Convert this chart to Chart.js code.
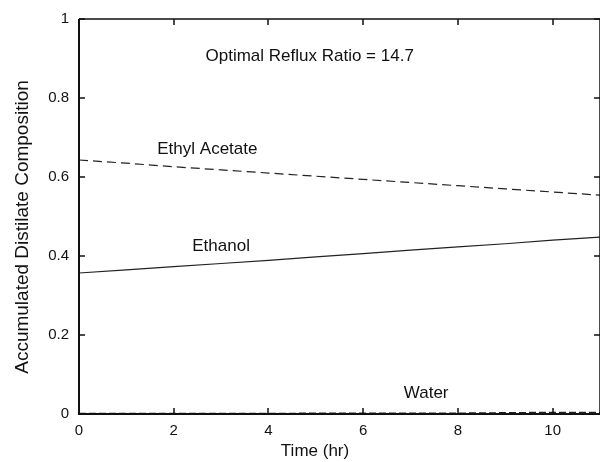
<!DOCTYPE html>
<html>
<head>
<meta charset="utf-8">
<script src="https://cdn.jsdelivr.net/npm/chart.js@4/dist/chart.umd.min.js"></script>
<style>
html,body{margin:0;padding:0;background:#fff;}
#wrap{width:600px;height:462px;}
</style>
</head>
<body>
<div id="wrap"><canvas id="c" width="600" height="462"></canvas></div>
<script>
const timeHr = [0, 1, 2, 3, 4, 5, 6, 7, 8, 9, 10, 11];
const ethylAcetate = [0.643, 0.635, 0.626, 0.618, 0.610, 0.602, 0.594, 0.586, 0.578, 0.570, 0.562, 0.554];
const ethanol = [0.357, 0.365, 0.373, 0.381, 0.389, 0.398, 0.406, 0.415, 0.423, 0.431, 0.440, 0.448];
const water = [0.001, 0.001, 0.001, 0.001, 0.001, 0.002, 0.002, 0.002, 0.002, 0.003, 0.004, 0.004];
const xTicks = [0, 2, 4, 6, 8, 10];
const yTicks = [0, 0.2, 0.4, 0.6, 0.8, 1];
const labels = [
  {text: 'Optimal Reflux Ratio = 14.7', x: 4.87, y: 0.906},
  {text: 'Ethyl Acetate', x: 2.71, y: 0.669},
  {text: 'Ethanol', x: 3.0, y: 0.425},
  {text: 'Water', x: 7.33, y: 0.053}
];
const xTitle = 'Time (hr)';
const yTitle = 'Accumulated Distilate Composition';

const FONT = "'Liberation Sans', Arial, Helvetica, sans-serif";
const INK = '#111';

function pts(ys){ return timeHr.map((t,i)=>({x:t, y:ys[i]})); }

const framePlugin = {
  id: 'frame',
  afterDatasetsDraw(chart){
    const {ctx, chartArea:a, scales:{x, y}} = chart;
    ctx.save();
    ctx.strokeStyle = INK;
    ctx.lineWidth = 2;
    ctx.beginPath();
    ctx.moveTo(a.left, a.top); ctx.lineTo(a.left, a.bottom); ctx.lineTo(a.right, a.bottom);
    ctx.stroke();
    ctx.lineWidth = 1.5;
    ctx.beginPath();
    ctx.moveTo(a.left, a.top); ctx.lineTo(a.right, a.top); ctx.lineTo(a.right, a.bottom);
    ctx.stroke();
    const L = 6;
    ctx.lineWidth = 1.5;
    ctx.beginPath();
    xTicks.forEach(v=>{
      const px = Math.round(x.getPixelForValue(v));
      ctx.moveTo(px, a.bottom); ctx.lineTo(px, a.bottom - L);
      ctx.moveTo(px, a.top); ctx.lineTo(px, a.top + L);
    });
    yTicks.forEach(v=>{
      const py = Math.round(y.getPixelForValue(v));
      ctx.moveTo(a.left, py); ctx.lineTo(a.left + L, py);
      ctx.moveTo(a.right, py); ctx.lineTo(a.right - L, py);
    });
    ctx.stroke();
    ctx.fillStyle = INK;
    ctx.font = '17px ' + FONT;
    ctx.textAlign = 'center';
    ctx.textBaseline = 'middle';
    labels.forEach(l=>{
      ctx.fillText(l.text, x.getPixelForValue(l.x), y.getPixelForValue(l.y));
    });
    ctx.fillText(xTitle, 315, 451);
    ctx.save();
    ctx.translate(23, 227);
    ctx.rotate(-Math.PI/2);
    ctx.font = '19px ' + FONT;
    ctx.fillText(yTitle, 0, 0);
    ctx.restore();
    ctx.restore();
  }
};

new Chart(document.getElementById('c'), {
  type: 'line',
  data: {
    datasets: [
      {label: 'Ethyl Acetate', data: pts(ethylAcetate), borderColor: '#222', borderWidth: 1.2, borderDash: [9, 5], pointRadius: 0, fill: false},
      {label: 'Ethanol', data: pts(ethanol), borderColor: '#222', borderWidth: 1.2, pointRadius: 0, fill: false},
      {label: 'Water', data: pts(water), borderColor: '#222', borderWidth: 1.5, borderDash: [7, 3], pointRadius: 0, fill: false}
    ]
  },
  options: {
    responsive: false,
    animation: false,
    layout: {padding: {top: 16, right: 0, left: 0, bottom: 0}},
    plugins: {legend: {display: false}, tooltip: {enabled: false}},
    scales: {
      x: {
        type: 'linear', min: 0, max: 11,
        afterFit(s){ s.height = 48; },
        afterBuildTicks(s){ s.ticks = xTicks.map(v=>({value:v})); },
        grid: {display: false, drawTicks: false},
        border: {display: false},
        ticks: {color: INK, font: {family: FONT, size: 15}, padding: 8, maxRotation: 0,
          callback: v => String(v)}
      },
      y: {
        type: 'linear', min: 0, max: 1,
        afterFit(s){ s.width = 79; },
        afterBuildTicks(s){ s.ticks = yTicks.map(v=>({value:v})); },
        grid: {display: false, drawTicks: false},
        border: {display: false},
        ticks: {color: INK, font: {family: FONT, size: 15}, padding: 10,
          callback: v => String(v)}
      }
    }
  },
  plugins: [framePlugin]
});
</script>
</body>
</html>
